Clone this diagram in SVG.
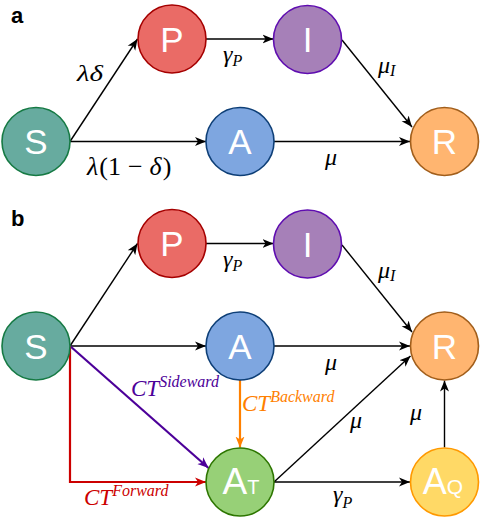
<svg xmlns="http://www.w3.org/2000/svg" width="480" height="524" viewBox="0 0 480 524">
<style>
.node{stroke-width:1.6}
.nl{font-family:"Liberation Sans",Arial,sans-serif;fill:#ffffff;text-anchor:middle}
.m{font-family:"Liberation Serif","Times New Roman",serif;font-style:italic;fill:#000}
.up{font-style:normal}
.e{fill:none;stroke:#000;stroke-width:1.4}
.panel{font-family:"Liberation Sans",Arial,sans-serif;font-weight:bold;font-size:22px;fill:#000}
</style>
<defs>
<marker id="ak" markerUnits="userSpaceOnUse" markerWidth="12" markerHeight="10" viewBox="0 0 12 10" refX="11" refY="5" orient="auto"><path d="M0,0.5 L11,5 L0,9.5 L3,5 Z" fill="#000"/></marker>
<marker id="ao" markerUnits="userSpaceOnUse" markerWidth="12" markerHeight="10" viewBox="0 0 12 10" refX="11" refY="5" orient="auto"><path d="M0,0.5 L11,5 L0,9.5 L3,5 Z" fill="#FF8000"/></marker>
<marker id="ap" markerUnits="userSpaceOnUse" markerWidth="12" markerHeight="10" viewBox="0 0 12 10" refX="11" refY="5" orient="auto"><path d="M0,0.5 L11,5 L0,9.5 L3,5 Z" fill="#4C0099"/></marker>
<marker id="ar" markerUnits="userSpaceOnUse" markerWidth="12" markerHeight="10" viewBox="0 0 12 10" refX="11" refY="5" orient="auto"><path d="M0,0.5 L11,5 L0,9.5 L3,5 Z" fill="#CC0000"/></marker>
</defs>
<rect width="480" height="524" fill="#ffffff"/>
<text class="panel" x="11" y="23">a</text>
<text class="panel" x="11" y="226">b</text>

<g id="connectors">
<!-- panel a -->
<path class="e" d="M70,141.5 L137.5,39" marker-end="url(#ak)"/>
<path class="e" d="M70,141.5 L206,141.5" marker-end="url(#ak)"/>
<path class="e" d="M206,39 L273.5,39" marker-end="url(#ak)"/>
<path class="e" d="M342,40 L412,127" marker-end="url(#ak)"/>
<path class="e" d="M274,141.5 L410,141.5" marker-end="url(#ak)"/>
<!-- panel b -->
<path class="e" d="M70,346 L137.5,243.5" marker-end="url(#ak)"/>
<path class="e" d="M206,243.5 L273.5,243.5" marker-end="url(#ak)"/>
<path class="e" d="M342,245 L412,332" marker-end="url(#ak)"/>
<path class="e" d="M70,346 L206,346" marker-end="url(#ak)"/>
<path class="e" d="M274,346 L410,346" marker-end="url(#ak)"/>
<path class="e" d="M70,346 L208.5,468" style="stroke:#4C0099;stroke-width:2.2" marker-end="url(#ap)"/>
<path class="e" d="M70,346 L70,482 L206,482" style="stroke:#CC0000;stroke-width:2.2" marker-end="url(#ar)"/>
<path class="e" d="M240,380 L240,447.5" style="stroke:#FF8000;stroke-width:2.2" marker-end="url(#ao)"/>
<path class="e" d="M274,482 L410.5,356" marker-end="url(#ak)"/>
<path class="e" d="M274,482 L410,482" marker-end="url(#ak)"/>
<path class="e" d="M444.5,447.5 L444.5,380.5" marker-end="url(#ak)"/>
</g>

<g id="edge-labels">
<text class="m" x="77" y="81" font-size="24" textLength="26" lengthAdjust="spacingAndGlyphs">λδ</text>
<text class="m" x="87" y="175" font-size="26">λ<tspan class="up" dx="1">(1</tspan><tspan class="up" dx="7">−</tspan><tspan dx="7">δ</tspan><tspan class="up" dx="1">)</tspan></text>
<text class="m" x="223" y="62" font-size="24">γ<tspan font-size="16" dy="4">P</tspan></text>
<text class="m" x="378" y="73" font-size="24">μ<tspan font-size="16" dy="3">I</tspan></text>
<text class="m" x="325" y="165" font-size="24">μ</text>

<text class="m" x="223" y="266.5" font-size="24">γ<tspan font-size="16" dy="4">P</tspan></text>
<text class="m" x="378" y="277.5" font-size="24">μ<tspan font-size="16" dy="3">I</tspan></text>
<text class="m" x="325" y="370" font-size="24">μ</text>
<text class="m" x="350" y="428" font-size="24">μ</text>
<text class="m" x="410" y="420" font-size="24">μ</text>
<text class="m" x="333" y="502" font-size="24">γ<tspan font-size="16" dy="6">P</tspan></text>
<text class="m" x="131" y="396" font-size="23" style="fill:#4C0099">CT<tspan font-size="16" dy="-9">Sideward</tspan></text>
<text class="m" x="242" y="411" font-size="23" style="fill:#FF8000">CT<tspan font-size="16" dy="-9">Backward</tspan></text>
<text class="m" x="84" y="505" font-size="23" style="fill:#CC0000">CT<tspan font-size="16" dy="-9">Forward</tspan></text>
</g>

<g id="node-a-S"><circle class="node" cx="36" cy="141.5" r="34" fill="#67AB9F" stroke="#167A44"/><text class="nl" x="36" y="154" font-size="35">S</text></g>
<g id="node-a-P"><circle class="node" cx="172" cy="39" r="34" fill="#EA6B66" stroke="#A50000"/><text class="nl" x="172" y="51.5" font-size="35">P</text></g>
<g id="node-a-I"><circle class="node" cx="307.5" cy="39.5" r="34" fill="#A680B8" stroke="#5F0DB0"/><text class="nl" x="307.5" y="52" font-size="35">I</text></g>
<g id="node-a-A"><circle class="node" cx="240" cy="141.5" r="34" fill="#7EA6E0" stroke="#0E3F77"/><text class="nl" x="240" y="154" font-size="35">A</text></g>
<g id="node-a-R"><circle class="node" cx="444.5" cy="141.5" r="34" fill="#FFB570" stroke="#A15E1B"/><text class="nl" x="444.5" y="154" font-size="35">R</text></g>

<g id="node-b-S"><circle class="node" cx="36" cy="346" r="34" fill="#67AB9F" stroke="#167A44"/><text class="nl" x="36" y="358.5" font-size="35">S</text></g>
<g id="node-b-P"><circle class="node" cx="172" cy="243.5" r="34" fill="#EA6B66" stroke="#A50000"/><text class="nl" x="172" y="256" font-size="35">P</text></g>
<g id="node-b-I"><circle class="node" cx="307.5" cy="244" r="34" fill="#A680B8" stroke="#5F0DB0"/><text class="nl" x="307.5" y="256.5" font-size="35">I</text></g>
<g id="node-b-A"><circle class="node" cx="240" cy="346" r="34" fill="#7EA6E0" stroke="#0E3F77"/><text class="nl" x="240" y="358.5" font-size="35">A</text></g>
<g id="node-b-R"><circle class="node" cx="444.5" cy="346" r="34" fill="#FFB570" stroke="#A15E1B"/><text class="nl" x="444.5" y="358.5" font-size="35">R</text></g>
<g id="node-b-AT"><circle class="node" cx="240" cy="482" r="34" fill="#97D077" stroke="#2D7600"/><text class="nl" x="241" y="494" font-size="37">A<tspan font-size="20">T</tspan></text></g>
<g id="node-b-AQ"><circle class="node" cx="444.5" cy="482" r="34" fill="#FFD966" stroke="#FF9900"/><text class="nl" x="443" y="494" font-size="36">A<tspan font-size="21">Q</tspan></text></g>
</svg>
